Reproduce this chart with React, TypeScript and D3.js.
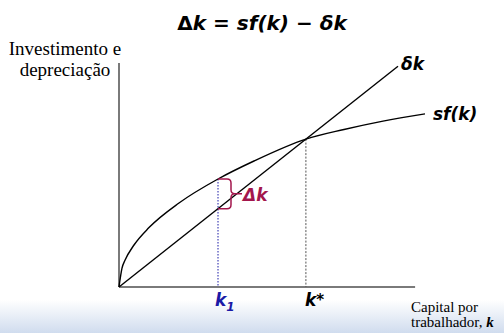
import React from "react";
import * as d3 from "d3";

// values (k in arbitrary units)
const sfK = [0, 1, 2, 5, 10, 20, 33, 45, 62.3, 75, 88, 102];
const sfV = [0, 6.3, 8.9, 14.0, 19.8, 28.0, 36.0, 42.0, 49.3, 52.5, 55.3, 57.7];
const depK = [0, 93];
const depV = [0, 73.6];
const k1 = 33;
const kStar = 62.3;

const W = 504;
const H = 333;

export default function App() {
  const x = d3.scaleLinear().domain([0, 100]).range([119, 419]);
  const y = d3.scaleLinear().domain([0, 75]).range([287, 62]);

  const sfPts: [number, number][] = sfK.map((k, i) => [k, sfV[i]]);
  const depPts: [number, number][] = depK.map((k, i) => [k, depV[i]]);
  const line = d3
    .line<[number, number]>()
    .x((d) => x(d[0]))
    .y((d) => y(d[1]))
    .curve(d3.curveMonotoneX);
  const straight = d3
    .line<[number, number]>()
    .x((d) => x(d[0]))
    .y((d) => y(d[1]));

  const interp = (k: number) => {
    for (let i = 1; i < sfK.length; i++) {
      if (k <= sfK[i]) {
        const t = (k - sfK[i - 1]) / (sfK[i] - sfK[i - 1]);
        return sfV[i - 1] + t * (sfV[i] - sfV[i - 1]);
      }
    }
    return sfV[sfV.length - 1];
  };
  const delta = depV[1] / depK[1];
  const k1x = x(k1);
  const k1Top = y(interp(k1));
  const k1Bot = y(delta * k1);
  const ksx = x(kStar);
  const ksy = y(delta * kStar);
  const bx = k1x + 13;
  const bm = (k1Top + k1Bot) / 2;
  const crimson = "#a3164c";
  const blue = "#1a1aa6";
  const sans = "'DejaVu Sans', Verdana, sans-serif";
  const serif = "'Liberation Serif', 'Times New Roman', serif";

  return (
    <svg
      width={W}
      height={H}
      style={{ position: "absolute", left: 0, top: 0, display: "block" }}
    >
      <defs>
        <linearGradient id="band" x1="0" y1="0" x2="0" y2="1">
          <stop offset="0" stopColor="#ffffff" />
          <stop offset="1" stopColor="#d0dcee" />
        </linearGradient>
      </defs>
      <rect x={0} y={0} width={W} height={H} fill="#ffffff" />
      <rect x={0} y={300} width={W} height={33} fill="url(#band)" />

      {/* title */}
      <text
        x={262}
        y={30}
        textAnchor="middle"
        fontFamily={sans}
        fontWeight="bold"
        fontSize={20}
        fill="#000"
      >
        <tspan>Δ</tspan>
        <tspan fontStyle="italic">k</tspan>
        <tspan> = </tspan>
        <tspan fontStyle="italic">sf(k)</tspan>
        <tspan> − </tspan>
        <tspan fontStyle="italic">δk</tspan>
      </text>

      {/* y label */}
      <text x={65} y={55} textAnchor="middle" fontFamily={serif} fontSize={19}>
        Investimento e
      </text>
      <text x={65} y={76} textAnchor="middle" fontFamily={serif} fontSize={19}>
        depreciação
      </text>

      {/* axes */}
      <line x1={x(0)} y1={y(75) + 1} x2={x(0)} y2={y(0)} stroke="#7a7a7a" strokeWidth={2} />
      <line x1={x(0)} y1={y(0)} x2={x(98.7)} y2={y(0)} stroke="#7a7a7a" strokeWidth={2} />

      {/* dotted guides */}
      <line
        x1={k1x}
        y1={k1Top}
        x2={k1x}
        y2={y(0)}
        stroke={blue}
        strokeWidth={1}
        strokeDasharray="1.5,1.5"
      />
      <line
        x1={ksx}
        y1={ksy}
        x2={ksx}
        y2={y(0)}
        stroke="#555"
        strokeWidth={1}
        strokeDasharray="2,1.5"
      />

      {/* curves */}
      <path d={straight(depPts) || ""} fill="none" stroke="#000" strokeWidth={1.4} />
      <path d={line(sfPts) || ""} fill="none" stroke="#000" strokeWidth={1.4} />

      {/* brace */}
      <path
        d={`M${k1x},${k1Top} L${bx - 4},${k1Top} Q${bx},${k1Top} ${bx},${k1Top + 4} L${bx},${bm - 4} Q${bx},${bm} ${bx + 4},${bm} L${bx + 11},${bm} M${bx + 4},${bm} Q${bx},${bm} ${bx},${bm + 4} L${bx},${k1Bot - 4} Q${bx},${k1Bot} ${bx - 4},${k1Bot} L${k1x},${k1Bot}`}
        fill="none"
        stroke={crimson}
        strokeWidth={1.5}
      />
      <text
        x={bx + 12}
        y={bm + 7}
        fontFamily={sans}
        fontWeight="bold"
        fontStyle="italic"
        fontSize={17}
        fill={crimson}
      >
        Δk
      </text>

      {/* curve labels */}
      <text
        x={401}
        y={70}
        fontFamily={sans}
        fontWeight="bold"
        fontStyle="italic"
        fontSize={17}
      >
        δk
      </text>
      <text
        x={433}
        y={120}
        fontFamily={sans}
        fontWeight="bold"
        fontStyle="italic"
        fontSize={17}
      >
        sf(k)
      </text>

      {/* x tick labels */}
      <text
        x={k1x - 3}
        y={306}
        fontFamily={sans}
        fontWeight="bold"
        fontStyle="italic"
        fontSize={17}
        fill={blue}
      >
        k
        <tspan fontSize={12} dy={5}>
          1
        </tspan>
      </text>
      <text
        x={ksx - 1}
        y={306}
        fontFamily={sans}
        fontWeight="bold"
        fontStyle="italic"
        fontSize={17}
        fill="#000"
      >
        k
        <tspan fontSize={15} dy={-1}>
          *
        </tspan>
      </text>

      {/* x label */}
      <text x={411} y={312} fontFamily={serif} fontSize={15}>
        Capital por
      </text>
      <text x={411} y={327} fontFamily={serif} fontSize={15}>
        trabalhador,{" "}
        <tspan fontWeight="bold" fontStyle="italic">
          k
        </tspan>
      </text>
    </svg>
  );
}
